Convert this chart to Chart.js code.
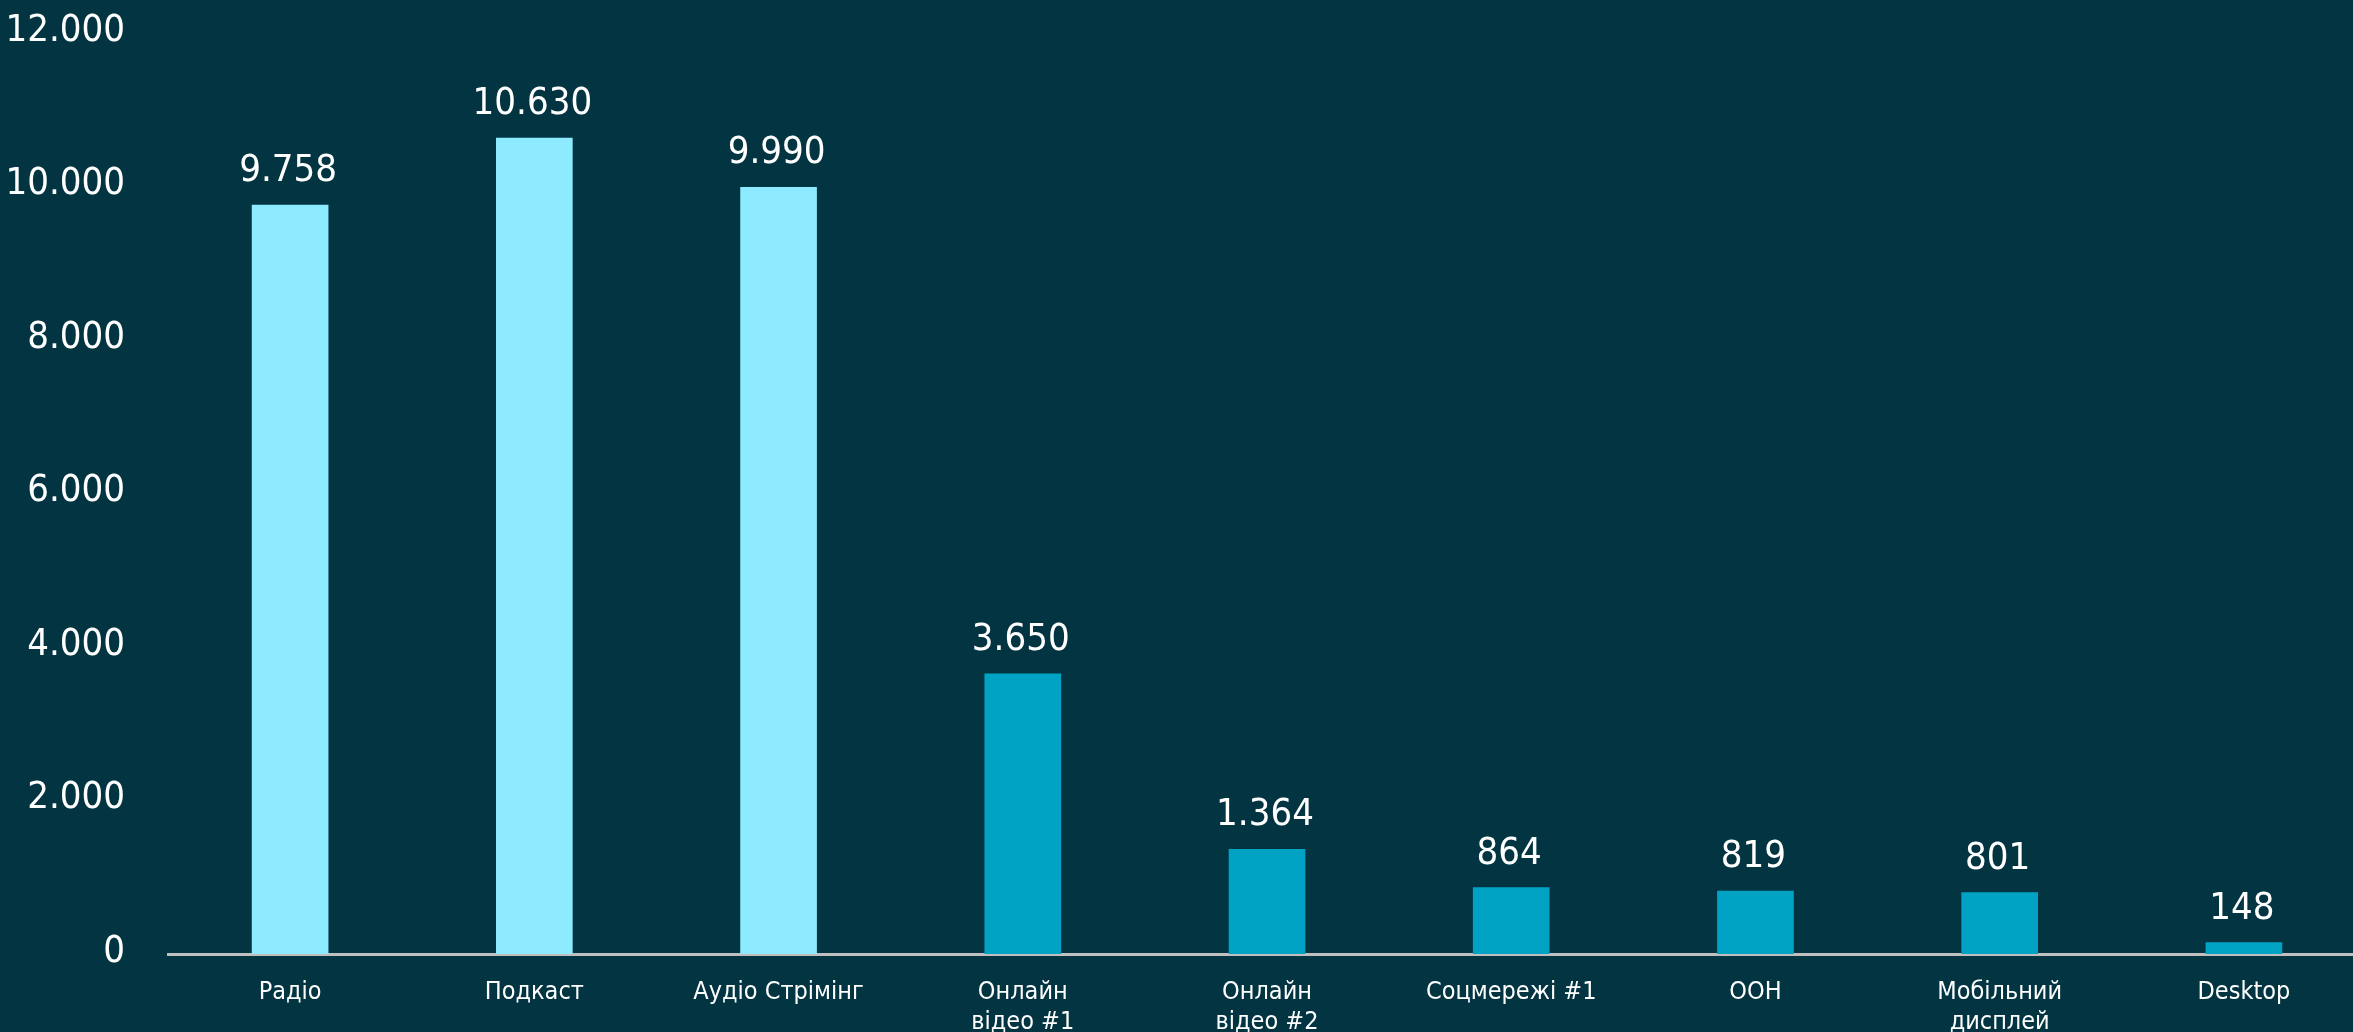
<!DOCTYPE html>
<html>
<head>
<meta charset="utf-8">
<script src="https://cdn.jsdelivr.net/npm/chart.js@4.4.1/dist/chart.umd.min.js"></script>
<style>
  html, body { margin: 0; padding: 0; background: #023442; overflow: hidden; }
  #wrap { width: 2366px; height: 1032px; }
</style>
</head>
<body>
<div id="wrap"><canvas id="dash"></canvas></div>
<script>
const dash = document.querySelector("#dash")

const categories = [
  "Радіо", "Подкаст", "Аудіо Стрімінг", ["Онлайн", "відео #1"], ["Онлайн", "відео #2"],
  "Соцмережі #1", "OOH", ["Мобільний", "дисплей"], "Desktop"
]
const values = [9758, 10630, 9990, 3650, 1364, 864, 819, 801, 148]
const barColors = ["#8EEBFF", "#8EEBFF", "#8EEBFF", "#00A3C4", "#00A3C4", "#00A3C4", "#00A3C4", "#00A3C4", "#00A3C4"]
const yTicks = [0, 2000, 4000, 6000, 8000, 10000, 12000]

const fontFamily = "'DejaVu Sans Condensed', 'DejaVu Sans', sans-serif"

function fmt(n){
  return String(n).replace(/\B(?=(\d{3})+(?!\d))/g, ".")
}

// value labels above bars
const barLabels = {
  id: "barLabels",
  afterDatasetsDraw(chart){
    const ctx = chart.ctx
    const meta = chart.getDatasetMeta(0)
    ctx.save()
    ctx.fillStyle = "#ffffff"
    ctx.font = "38px " + fontFamily
    ctx.textAlign = "center"
    ctx.textBaseline = "alphabetic"
    meta.data.forEach((bar, i) => {
      ctx.fillText(fmt(values[i]), bar.x - 2, bar.y - 24)
    })
    ctx.restore()
  }
}

const dashChart = new Chart(dash, {
  type: "bar",
  plugins: [barLabels],
  data: {
    labels: categories,
    datasets: [{
      data: values,
      backgroundColor: barColors,
      barThickness: 76,
      borderWidth: 0,
    }]
  },
  options: {
    responsive: true,
    maintainAspectRatio: false,
    animation: false,
    layout: {
      padding: { top: 33, right: 0, left: 0, bottom: 0 }
    },
    scales: {
      x: {
        offset: true,
        grid: { display: false, drawTicks: false },
        border: { display: true, color: "#BFBFBF", width: 3 },
        ticks: {
          color: "#ffffff",
          padding: 23,
          maxRotation: 0,
          autoSkip: false,
          font: { family: fontFamily, size: 25, lineHeight: 1.2 },
        },
        afterFit(scale){ scale.height = 78 },
      },
      y: {
        min: 0,
        max: 12000,
        grid: { display: false, drawOnChartArea: false, drawTicks: true, tickLength: 43, tickColor: "rgba(0,0,0,0)" },
        border: { display: false },
        afterBuildTicks(scale){
          scale.ticks = yTicks.map((v) => ({ value: v }))
        },
        ticks: {
          color: "#ffffff",
          padding: 0,
          labelOffset: -2,
          font: { family: fontFamily, size: 38 },
          callback: (v) => fmt(v),
        },
        afterFit(scale){ scale.width = 168 },
      }
    },
    plugins: {
      legend: { display: false },
      tooltip: { enabled: false },
    },
  },
})
</script>
</body>
</html>
